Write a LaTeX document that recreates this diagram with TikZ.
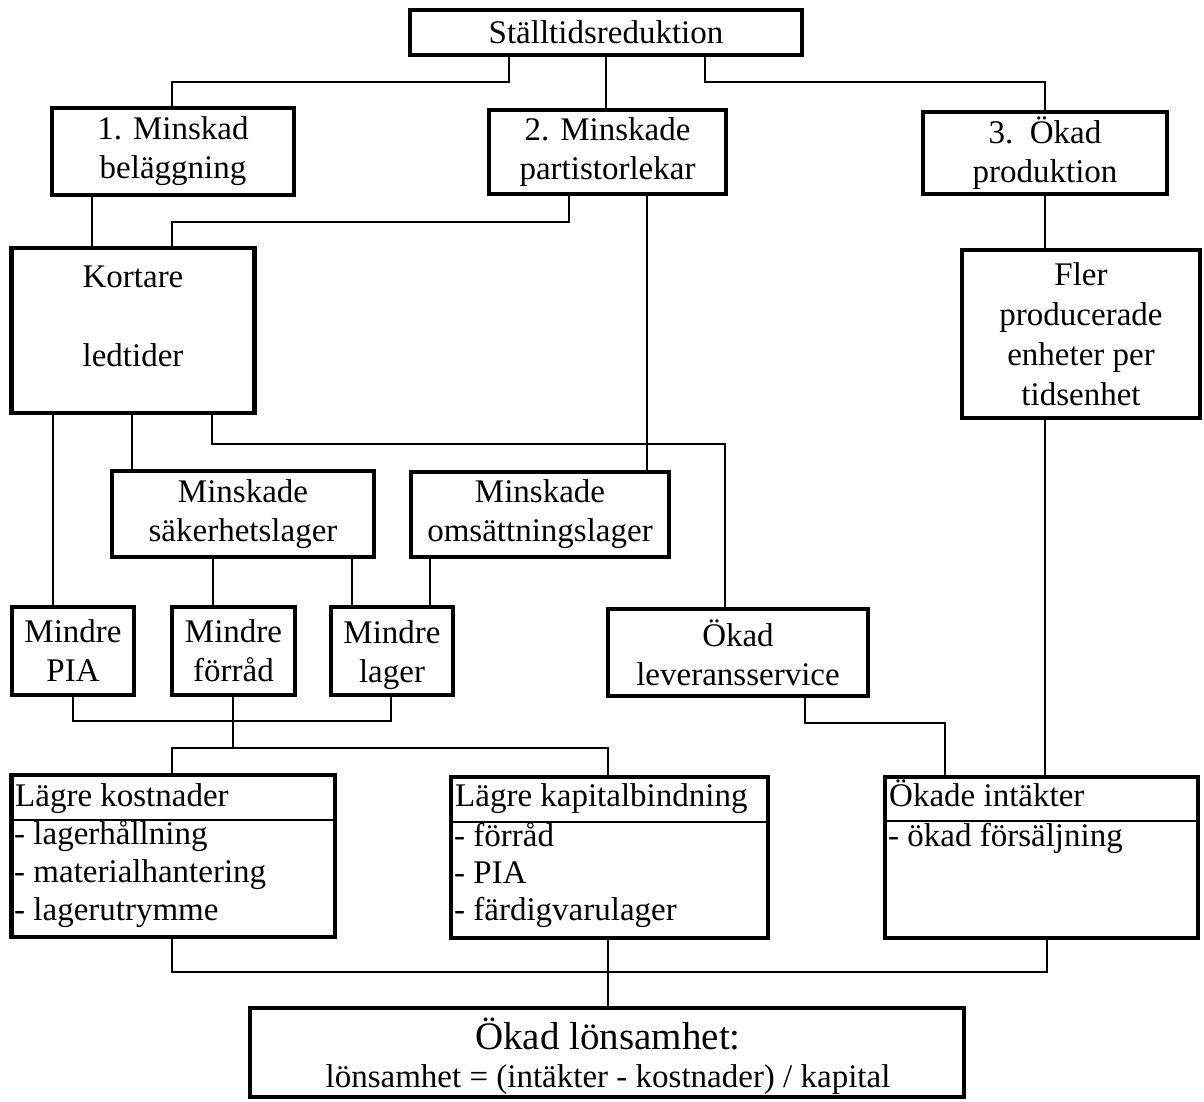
\documentclass[tikz,border=0pt]{standalone}
\usepackage{fontspec}
\setmainfont{Liberation Serif}
\begin{document}
\begin{tikzpicture}[x=1pt,y=-1pt,
  box/.style={draw,line width=4.5pt,inner sep=0pt,align=center,
    font=\fontsize{33}{39}\selectfont},
  label/.style={inner sep=0pt,align=center,font=\fontsize{33}{39}\selectfont},
  wire/.style={line width=2.4pt},
  rule/.style={line width=2.6pt},
  txt/.style={inner sep=0pt,font=\fontsize{33}{39}\selectfont,
    text height=0.66em,text depth=0pt}
]
\useasboundingbox (0,0) rectangle (1204,1102);
\fill[white] (0,0) rectangle (1204,1102);

% --- top level ---
\node[box,minimum width=392pt,minimum height=45pt] (top) at (606,32.5) {Ställtidsreduktion};

% --- the three main effects ---
\node[box,minimum width=242pt,minimum height=87pt] (b1) at (173,151.5) {1. Minskad\\beläggning};
\node[box,minimum width=237pt,minimum height=84pt] (b2) at (607.5,152) {2. Minskade\\partistorlekar};
\node[box,minimum width=244pt,minimum height=82pt] (b3) at (1045,153) {3.\ \ Ökad\\produktion};

% --- second level ---
\node[box,minimum width=243pt,minimum height=165pt] (kort) at (133,330.5) {};
\node[label] (kortT) at (133,316) {Kortare\\[40pt]ledtider};
\node[box,minimum width=238pt,minimum height=168pt,font=\fontsize{33}{40}\selectfont] (fler) at (1081,334)
  {Fler\\producerade\\enheter per\\tidsenhet};

% --- stock reductions ---
\node[box,minimum width=262pt,minimum height=86pt] (sak) at (243,514) {Minskade\\säkerhetslager};
\node[box,minimum width=258pt,minimum height=85pt] (oms) at (540,514.5) {Minskade\\omsättningslager};

\node[box,minimum width=122pt,minimum height=88pt] (pia) at (73,651) {Mindre\\PIA};
\node[box,minimum width=123pt,minimum height=88pt] (forr) at (233.5,651) {Mindre\\förråd};
\node[box,minimum width=122pt,minimum height=88pt] (lager) at (392,651) {};
\node[label] (lagerT) at (392,655) {Mindre\\lager};
\node[box,minimum width=260pt,minimum height=87pt] (lev) at (738,652.5) {Ökad\\leveransservice};

% --- economic consequences (boxes with heading row) ---
\node[box,minimum width=323.5pt,minimum height=162pt] (LK) at (173.25,856) {};
\draw[rule] (LK.west |- 0,820) -- (LK.east |- 0,820);
\node[txt,anchor=west] (lk0) at (15,803) {Lägre kostnader};
\node[txt,anchor=west] (lk1) at (14,841) {- lagerhållning};
\node[txt,anchor=west] (lk2) at (14,879) {- materialhantering};
\node[txt,anchor=west] (lk3) at (14,917) {- lagerutrymme};

\node[box,minimum width=317pt,minimum height=161pt] (LKB) at (609.5,857.5) {};
\draw[rule] (LKB.west |- 0,822) -- (LKB.east |- 0,822);
\node[txt,anchor=west] (kb0) at (455,803) {Lägre kapitalbindning};
\node[txt,anchor=west] (kb1) at (454,843) {- förråd};
\node[txt,anchor=west] (kb2) at (454,880) {- PIA};
\node[txt,anchor=west] (kb3) at (454,917) {- färdigvarulager};

\node[box,minimum width=313pt,minimum height=161pt] (OI) at (1041.5,857.5) {};
\draw[rule] (OI.west |- 0,821) -- (OI.east |- 0,821);
\node[txt,anchor=west] (oi0) at (889,803) {Ökade intäkter};
\node[txt,anchor=west] (oi1) at (888,843) {- ökad försäljning};

% --- result ---
\node[box,minimum width=714pt,minimum height=89pt] (lon) at (607,1052.5) {};
\node[label,font=\fontsize{33}{38}\selectfont] (lonT) at (608,1056)
  {{\fontsize{39}{44}\selectfont Ökad lönsamhet:}\\lönsamhet = (intäkter - kostnader) / kapital};

% --- junction points ---
\coordinate (j1) at (233,748);
\coordinate (j2) at (608,972);

% --- connectors ---
\draw[wire] (top.south -| 509,0) -- (509,82) -| (b1.north -| 172,0);
\draw[wire] (top.south -| 606,0) -- (b2.north -| 606,0);
\draw[wire] (top.south -| 705,0) -- (705,82) -| (b3.north -| 1045,0);

\draw[wire] (b1.south -| 92,0) -- (kort.north -| 92,0);
\draw[wire] (b2.south -| 569,0) -- (569,222) -| (kort.north -| 172,0);
\draw[wire] (b2.south -| 647,0) -- (oms.north -| 647,0);
\draw[wire] (b3.south -| 1045,0) -- (fler.north -| 1045,0);

\draw[wire] (kort.south -| 53,0) -- (pia.north -| 53,0);
\draw[wire] (kort.south -| 132,0) -- (sak.north -| 132,0);
\draw[wire] (kort.south -| 212,0) -- (212,444) -| (lev.north -| 725,0);

\draw[wire] (sak.south -| 213,0) -- (forr.north -| 213,0);
\draw[wire] (sak.south -| 352,0) -- (lager.north -| 352,0);
\draw[wire] (oms.south -| 430,0) -- (lager.north -| 430,0);

\draw[wire] (pia.south -| 73,0) -- (73,721) -| (lager.south -| 391,0);
\draw[wire] (forr.south -| 233,0) -- (j1);
\draw[wire] (LK.north -| 172,0) |- (j1) -| (LKB.north -| 608,0);

\draw[wire] (lev.south -| 805,0) -- (805,723) -| (OI.north -| 945,0);
\draw[wire] (fler.south -| 1045,0) -- (OI.north -| 1045,0);

\draw[wire] (LK.south -| 172,0) |- (j2) -| (OI.south -| 1047,0);
\draw[wire] (LKB.south -| 608,0) -- (lon.north -| 608,0);
\end{tikzpicture}
\end{document}
